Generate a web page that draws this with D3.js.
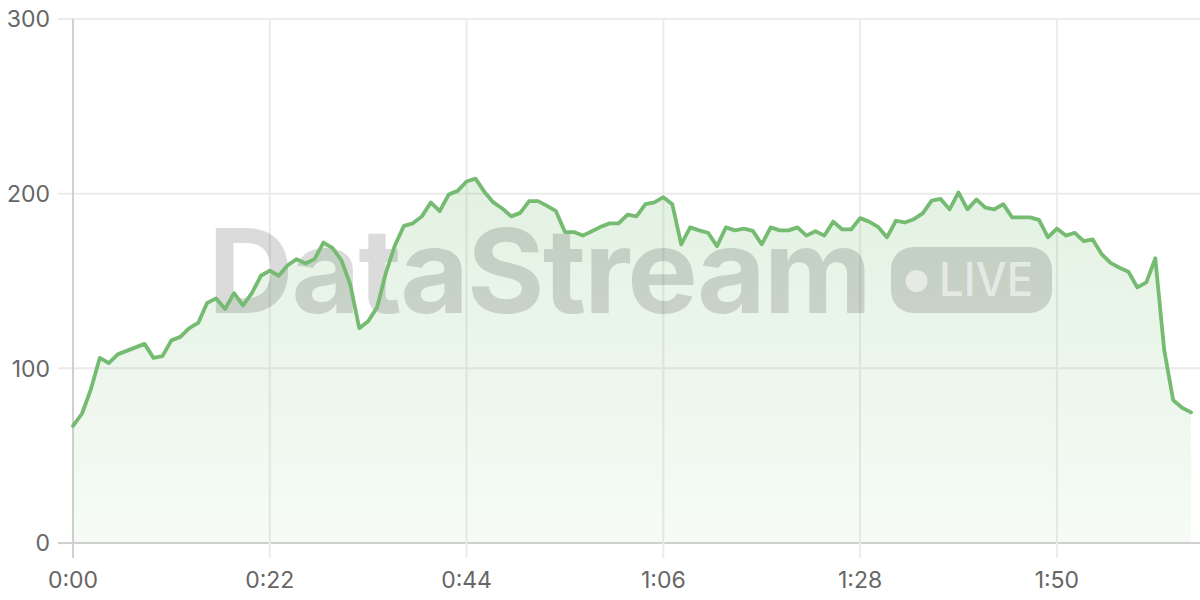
<!DOCTYPE html>
<html><head><meta charset="utf-8">
<script src="https://cdn.jsdelivr.net/npm/d3@7"></script>
<style>
html,body{margin:0;padding:0;background:#fff;}
svg{display:block;font-family:Inter,"Noto Sans",sans-serif;}
</style></head><body>
<svg id="c" width="1200" height="600"></svg>
<script>
const values = [67,74,88,106,103,108,110,112,114,106,107,116,118,123,126,137.5,140,134,143,136,
143,153,156,153,159,162.5,160,162.5,172,169,162,148,123,127,135,155,170.5,181.6,183,187,
195,190,199.5,201.6,207,208.6,201,195,191.5,187,189,195.7,195.7,193,190,178,178,176,178.5,181,
183,183,188,187,194,195,198,194,171,180.7,179,177.6,170,180.7,179,180,178.7,171,180.7,179,
179,180.7,176,178.5,176,184,179.5,179.5,186,184,181,175,184.5,183.5,185.4,188.7,196,197,191,200.7,
191,196.7,192,191,194,186.4,186.4,186.4,185,175,180,176,177.6,172.8,173.8,165.4,160.4,157.6,155.3,146.3,
149.2,163,110.4,81.8,77.4,74.8];
const seconds = values.map((v,i)=>i);
const xTicks = [0,22,44,66,88,110];
const xTickLabels = ["0:00","0:22","0:44","1:06","1:28","1:50"];
const yTicks = [0,100,200,300];
const watermarkText = "DataStream";
const badgeText = "LIVE";

const svg = d3.select("#c");
const L = 73, R = 1200, T = 19, B = 543;
const x = d3.scaleLinear().domain([0,126]).range([L,R]);
const y = d3.scaleLinear().domain([0,300]).range([B,T]);
const data = seconds.map((s,i)=>({s, v:values[i]}));

const defs = svg.append("defs");
const g = defs.append("linearGradient").attr("id","fillg")
  .attr("gradientUnits","userSpaceOnUse").attr("x1",0).attr("y1",y(209)).attr("x2",0).attr("y2",B);
g.append("stop").attr("offset",0).attr("stop-color","#6dbb6a").attr("stop-opacity",0.2);
g.append("stop").attr("offset",1).attr("stop-color","#6dbb6a").attr("stop-opacity",0.06);

// grid
const grid = svg.append("g");
grid.selectAll("line.h").data(yTicks).join("line")
  .attr("x1",L-15).attr("x2",R).attr("y1",d=>y(d)).attr("y2",d=>y(d))
  .attr("stroke",d=>d===0?"#d0d0d0":"#ebebeb").attr("stroke-width",2);
grid.selectAll("line.v").data(xTicks).join("line")
  .attr("x1",d=>x(d)).attr("x2",d=>x(d)).attr("y1",T).attr("y2",B+15)
  .attr("stroke",d=>d===0?"#d0d0d0":"#ebebeb").attr("stroke-width",2);

// area
svg.append("path").datum(data)
  .attr("d", d3.area().x(d=>x(d.s)).y0(B).y1(d=>y(d.v)))
  .attr("fill","url(#fillg)");

// watermark
const wm = svg.append("g").attr("fill","#000").attr("fill-opacity",0.14);
wm.append("text").attr("x",208).attr("y",313).attr("font-size",117).attr("font-weight",700)
  .attr("textLength",662).attr("lengthAdjust","spacingAndGlyphs").attr("letter-spacing","-2px")
  .text(watermarkText);
wm.append("rect").attr("x",891).attr("y",247).attr("width",161).attr("height",66).attr("rx",22);
const badge = svg.append("g").attr("fill","#fff").attr("fill-opacity",0.55);
badge.append("circle").attr("cx",916.5).attr("cy",281).attr("r",11);
badge.append("text").attr("x",939).attr("y",296).attr("font-size",46).attr("font-weight",500)
  .attr("textLength",94).attr("lengthAdjust","spacingAndGlyphs").text(badgeText);

// line
svg.append("path").datum(data)
  .attr("d", d3.line().x(d=>x(d.s)).y(d=>y(d.v)))
  .attr("fill","none").attr("stroke","#76bb72").attr("stroke-width",3.8)
  .attr("stroke-linejoin","round").attr("stroke-linecap","round");

// labels
svg.append("g").selectAll("text").data(yTicks).join("text")
  .attr("x",50).attr("y",d=>y(d)+2).attr("text-anchor","end").attr("dominant-baseline","middle")
  .attr("font-size",23).attr("fill","#666").text(d=>d);
svg.append("g").selectAll("text").data(xTicks).join("text")
  .attr("x",d=>x(d)).attr("y",588).attr("text-anchor","middle")
  .attr("font-size",23).attr("fill","#666").text((d,i)=>xTickLabels[i]);
</script>
</body></html>
